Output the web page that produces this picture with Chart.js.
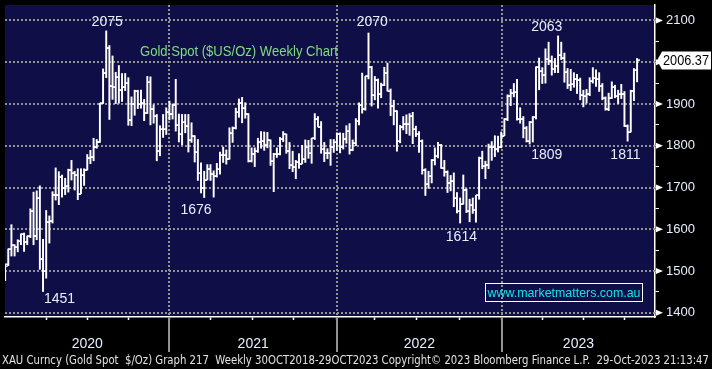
<!DOCTYPE html>
<html>
<head>
<meta charset="utf-8">
<script src="https://cdn.jsdelivr.net/npm/chart.js@4.4.0/dist/chart.umd.min.js"></script>
<style>
  html, body { margin: 0; padding: 0; background: #000; }
  canvas { display: block; }
</style>
</head>
<body>
<canvas id="chart" width="712" height="369"></canvas>
<script>
/* =========================
   DATA (weekly bars, first week ending 27-Dec-2019)
========================= */
const opens = [
  1478,1517,1552,1562,1557,1571,1589,1570,1584,1643,
  1585,1674,1530,1499,1617,1620,1683,1683,1726,1700,
  1703,1743,1734,1730,1685,1730,1743,1771,1774,1798,
  1810,1902,1975,2035,1944,1940,1964,1934,1941,1950,
  1862,1899,1930,1900,1902,1879,1952,1889,1871,1788,
  1839,1839,1881,1877,1898,1850,1828,1856,1848,1814,
  1824,1784,1734,1700,1719,1745,1733,1728,1744,1777,
  1777,1769,1831,1843,1881,1903,1891,1877,1764,1781,
  1787,1808,1812,1802,1814,1763,1780,1781,1817,1828,
  1788,1754,1750,1761,1757,1768,1796,1783,1818,1865,
  1846,1792,1783,1782,1798,1808,1829,1797,1817,1835,
  1791,1807,1859,1898,1889,1966,1988,1921,1958,1925,
  1945,1975,1931,1896,1883,1811,1846,1853,1851,1871,
  1840,1827,1811,1742,1708,1727,1766,1775,1802,1747,
  1738,1712,1716,1675,1644,1661,1695,1644,1657,1645,
  1681,1771,1751,1755,1797,1797,1792,1798,1824,1865,
  1920,1926,1929,1865,1865,1842,1811,1856,1868,1989,
  1978,1969,2007,2004,1983,1990,2017,2011,1977,1946,
  1948,1961,1958,1921,1919,1925,1955,1962,1959,1943,
  1914,1889,1915,1940,1919,1924,1925,1848,1833,1932,
  1981
];
const highs = [
  1514,1553,1611,1563,1575,1589,1591,1584,1649,1689,
  1692,1704,1576,1645,1632,1690,1747,1738,1730,1722,
  1744,1765,1739,1745,1745,1745,1779,1789,1818,1815,
  1902,1984,2075,2040,2015,1976,1992,1973,1973,1963,
  1917,1933,1933,1933,1911,1966,1965,1898,1875,1848,
  1875,1891,1907,1900,1959,1876,1875,1875,1875,1855,
  1824,1815,1759,1739,1755,1755,1740,1758,1785,1797,
  1790,1843,1845,1890,1912,1916,1903,1877,1795,1795,
  1818,1834,1833,1832,1814,1782,1795,1820,1834,1828,
  1808,1787,1765,1781,1801,1814,1813,1818,1877,1870,
  1858,1808,1793,1815,1815,1831,1831,1830,1848,1853,
  1814,1865,1903,1974,1966,2070,1990,1966,1960,1950,
  1988,1998,1936,1909,1884,1849,1870,1874,1877,1880,
  1847,1834,1814,1745,1739,1767,1795,1808,1803,1765,
  1740,1729,1735,1688,1675,1730,1697,1672,1675,1681,
  1773,1787,1763,1804,1810,1824,1823,1833,1865,1922,
  1935,1949,1959,1891,1870,1846,1858,1870,1989,2010,
  1987,2032,2048,2015,2009,2063,2048,2022,1985,1983,
  1975,1971,1962,1933,1935,1963,1987,1982,1975,1949,
  1917,1926,1953,1945,1933,1947,1930,1850,1933,1985,
  2009
];
const lows = [
  1477,1513,1536,1536,1546,1563,1547,1563,1580,1563,
  1575,1504,1451,1483,1567,1615,1670,1659,1677,1683,
  1689,1718,1694,1671,1685,1705,1742,1757,1764,1794,
  1808,1901,1963,1863,1911,1901,1902,1906,1932,1849,
  1848,1873,1889,1890,1860,1877,1850,1854,1764,1776,
  1820,1827,1862,1864,1835,1809,1802,1831,1785,1808,
  1761,1717,1687,1676,1719,1717,1677,1725,1732,1760,
  1756,1768,1808,1840,1868,1855,1866,1761,1761,1750,
  1784,1794,1789,1795,1753,1690,1772,1778,1810,1782,
  1745,1738,1721,1746,1757,1760,1770,1758,1815,1845,
  1782,1762,1769,1753,1784,1789,1783,1792,1806,1780,
  1788,1800,1850,1878,1885,1960,1895,1910,1890,1915,
  1944,1931,1872,1850,1787,1807,1838,1829,1825,1805,
  1822,1784,1732,1681,1698,1711,1754,1771,1746,1727,
  1688,1692,1654,1639,1615,1660,1640,1618,1638,1617,
  1672,1745,1721,1745,1765,1774,1785,1795,1824,1860,
  1896,1917,1861,1854,1819,1809,1804,1809,1864,1934,
  1949,1950,1994,1969,1975,1975,2006,1952,1937,1932,
  1940,1925,1910,1893,1902,1920,1950,1942,1930,1910,
  1885,1884,1913,1915,1901,1913,1846,1811,1833,1908,
  1953
];
const closes = [
  1511,1552,1562,1557,1571,1589,1570,1584,1643,1585,
  1674,1530,1499,1617,1620,1683,1683,1726,1700,1703,
  1743,1734,1730,1685,1730,1743,1771,1774,1798,1810,
  1902,1975,2035,1944,1940,1964,1934,1941,1950,1862,
  1899,1930,1900,1902,1879,1952,1889,1871,1788,1839,
  1839,1881,1877,1898,1850,1828,1856,1848,1814,1824,
  1784,1734,1700,1719,1745,1733,1728,1744,1777,1777,
  1769,1831,1843,1881,1903,1891,1877,1764,1781,1787,
  1808,1812,1802,1814,1763,1780,1781,1817,1828,1788,
  1754,1750,1761,1757,1768,1796,1783,1818,1865,1846,
  1792,1783,1782,1798,1808,1829,1797,1817,1835,1791,
  1807,1859,1898,1889,1966,1988,1921,1958,1925,1945,
  1975,1931,1896,1883,1811,1846,1853,1851,1871,1840,
  1827,1811,1742,1708,1727,1766,1775,1802,1747,1738,
  1712,1716,1675,1644,1661,1695,1644,1657,1645,1681,
  1771,1751,1755,1797,1797,1792,1798,1824,1865,1920,
  1926,1929,1865,1865,1842,1811,1856,1868,1989,1978,
  1969,2007,2004,1983,1990,2017,2011,1977,1946,1948,
  1961,1958,1921,1919,1925,1955,1962,1959,1943,1914,
  1889,1915,1940,1919,1924,1925,1848,1833,1932,1981,
  2006.37
];

const yMajor = [1400, 1500, 1600, 1700, 1800, 1900, 2000, 2100];
const yMinor = [1450, 1550, 1650, 1750, 1850, 1950, 2050];

// week positions of the quarter ticks and of the year breaks
const quarterTicks = [13, 26, 39, 52, 65, 78.2, 91.2, 105, 117, 130.1, 143.9, 157.2, 170.1, 183.2, 196];
const yearBreaks = [52, 105, 157.2];
const yearLabels = ["2020", "2021", "2022", "2023"];

const lastPrice = 2006.37;

// highs / lows written on the chart (text, week, price of label centre)
const notes = [
  { text: "2075", x: 32.3, y: 2096 },
  { text: "2070", x: 116.2, y: 2095 },
  { text: "2063", x: 171.4, y: 2084 },
  { text: "1676", x: 60.4, y: 1646 },
  { text: "1614", x: 144.4, y: 1581 },
  { text: "1809", x: 171.4, y: 1778 },
  { text: "1811", x: 196.3, y: 1778 },
  { text: "1451", x: 17.2, y: 1432 },
];

const titleText = "Gold Spot ($US/Oz) Weekly Chart";
const siteText = "www.marketmatters.com.au";
const footerText = "XAU Curncy (Gold Spot  $/Oz) Graph 217  Weekly 30OCT2018-29OCT2023 Copyright\u00A9 2023 Bloomberg Finance L.P.  29-Oct-2023 21:13:47";

/* =========================
   MARKS
========================= */
function tickImage(left) {
  const c = document.createElement("canvas");
  c.width = 6;
  c.height = 2;
  const g = c.getContext("2d");
  g.fillStyle = "#ffffff";
  g.fillRect(left ? 0 : 3, 0.5, 3, 1.4);
  return c;
}

const openTick = tickImage(true);
const closeTick = tickImage(false);

const rangeData = highs.map((h, i) => ({ x: i, y: [lows[i], h] }));
const openData = opens.map((v, i) => ({ x: i, y: v }));
const closeData = closes.map((v, i) => ({ x: i, y: v }));

const FONT = '"Liberation Sans", Arial, sans-serif';
const LABEL = "#e8eeff";
const GRID = "#929292";

/* =========================
   PLUGIN: background, dotted grid, texts
========================= */
const decor = {
  id: "decor",
  beforeDraw(chart) {
    const { ctx, chartArea } = chart;
    ctx.save();
    ctx.fillStyle = "#000";
    ctx.fillRect(0, 0, chart.width, chart.height);
    ctx.fillStyle = "#100e46";
    ctx.fillRect(chartArea.left, chartArea.top, chartArea.right - chartArea.left, chartArea.bottom - chartArea.top);
    ctx.restore();
  },
  beforeDatasetsDraw(chart) {
    const { ctx, chartArea } = chart;
    const xs = chart.scales.x;
    const ys = chart.scales.y;
    ctx.save();
    ctx.strokeStyle = GRID;
    ctx.lineWidth = 2;
    ctx.setLineDash([2, 2]);
    yMajor.forEach((v) => {
      const py = Math.round(ys.getPixelForValue(v));
      ctx.beginPath();
      ctx.moveTo(chartArea.left, py);
      ctx.lineTo(chartArea.right, py);
      ctx.stroke();
    });
    yearBreaks.forEach((v) => {
      const px = Math.round(xs.getPixelForValue(v));
      ctx.beginPath();
      ctx.moveTo(px, chartArea.top);
      ctx.lineTo(px, chartArea.bottom);
      ctx.stroke();
    });
    ctx.restore();
  },
  afterDraw(chart) {
    const { ctx, chartArea } = chart;
    const xs = chart.scales.x;
    const ys = chart.scales.y;

    ctx.save();

    // year dividers below the axis
    ctx.strokeStyle = GRID;
    ctx.lineWidth = 2;
    yearBreaks.forEach((v) => {
      const px = Math.round(xs.getPixelForValue(v));
      ctx.beginPath();
      ctx.moveTo(px, chartArea.bottom);
      ctx.lineTo(px, 352);
      ctx.stroke();
    });

    // year labels
    const edges = [xs.min, ...yearBreaks, xs.max];
    ctx.fillStyle = LABEL;
    ctx.font = "14px " + FONT;
    ctx.textAlign = "center";
    ctx.textBaseline = "middle";
    yearLabels.forEach((t, i) => {
      const cx = (xs.getPixelForValue(edges[i]) + xs.getPixelForValue(edges[i + 1])) / 2;
      ctx.fillText(t, cx, 344);
    });

    // footer
    ctx.fillStyle = "#e2e2e2";
    ctx.font = '12px "DejaVu Sans", sans-serif';
    ctx.textAlign = "left";
    ctx.fillText(footerText, 2, 361, 707);

    // arrows on the major price ticks
    ctx.fillStyle = "#ffffff";
    yMajor.forEach((v) => {
      const py = ys.getPixelForValue(v);
      ctx.beginPath();
      ctx.moveTo(chartArea.right + 1, py - 3);
      ctx.lineTo(chartArea.right + 8, py);
      ctx.lineTo(chartArea.right + 1, py + 3);
      ctx.closePath();
      ctx.fill();
    });

    // last price box
    const ly = ys.getPixelForValue(lastPrice) + 1;
    ctx.beginPath();
    ctx.moveTo(chartArea.right + 2, ly);
    ctx.lineTo(chartArea.right + 7, ly - 9);
    ctx.lineTo(711, ly - 9);
    ctx.lineTo(711, ly + 9);
    ctx.lineTo(chartArea.right + 7, ly + 9);
    ctx.closePath();
    ctx.fillStyle = "#ffffff";
    ctx.fill();
    ctx.fillStyle = "#000";
    ctx.font = "14px " + FONT;
    ctx.textAlign = "left";
    ctx.fillText(lastPrice.toFixed(2), chartArea.right + 8, ly + 0.5, 46);

    // title
    ctx.fillStyle = "#7ddc7d";
    ctx.font = "14px " + FONT;
    ctx.fillText(titleText, 140, 52, 198);

    // high / low notes
    ctx.fillStyle = LABEL;
    ctx.textAlign = "center";
    notes.forEach((n) => {
      ctx.fillText(n.text, xs.getPixelForValue(n.x), ys.getPixelForValue(n.y));
    });

    // website box
    ctx.strokeStyle = "#ffffff";
    ctx.lineWidth = 1;
    ctx.strokeRect(485.5, 283.5, 157, 18);
    ctx.fillStyle = "#14e2ea";
    ctx.font = "13px " + FONT;
    ctx.fillText(siteText, 564, 293, 153);

    ctx.restore();
  },
};

/* =========================
   CHART
========================= */
new Chart(document.getElementById("chart"), {
  type: "bar",
  data: {
    datasets: [
      {
        type: "bar",
        data: rangeData,
        backgroundColor: "#ffffff",
        borderWidth: 0,
        barThickness: 1.3,
        grouped: false,
      },
      { type: "scatter", data: openData, pointStyle: openTick, pointRadius: 3 },
      { type: "scatter", data: closeData, pointStyle: closeTick, pointRadius: 3 },
    ],
  },
  options: {
    responsive: false,
    animation: false,
    devicePixelRatio: 1,
    events: [],
    layout: { padding: 0 },
    plugins: { legend: { display: false }, tooltip: { enabled: false } },
    scales: {
      x: {
        type: "linear",
        min: -0.036,
        max: 205.67,
        offset: false,
        afterBuildTicks: (s) => {
          s.ticks = quarterTicks.map((v) => ({ value: v }));
        },
        afterFit: (s) => {
          s.height = 52;
          s.paddingLeft = 0;
          s.paddingRight = 0;
        },
        ticks: { display: false },
        grid: {
          offset: false,
          drawOnChartArea: false,
          tickLength: 3,
          tickWidth: 1.5,
          tickColor: (c) => (c.tick && yearBreaks.includes(c.tick.value) ? GRID : "#ffffff"),
        },
        border: { display: true, color: "#ffffff", width: 1.5 },
      },
      y: {
        position: "right",
        min: 1390,
        max: 2137,
        afterBuildTicks: (s) => {
          s.ticks = yMajor.concat(yMinor).sort((a, b) => a - b).map((v) => ({ value: v }));
        },
        afterFit: (s) => {
          s.width = 57;
          s.paddingTop = 0;
          s.paddingBottom = 0;
        },
        ticks: {
          autoSkip: false,
          padding: 7,
          color: LABEL,
          font: { family: FONT, size: 13 },
          callback: (v) => (yMajor.includes(v) ? String(v) : ""),
        },
        grid: {
          drawOnChartArea: false,
          tickLength: 4,
          tickWidth: 1,
          tickColor: "#ffffff",
        },
        border: { display: true, color: "#ffffff", width: 1.5 },
      },
    },
  },
  plugins: [decor],
});
</script>
</body>
</html>
